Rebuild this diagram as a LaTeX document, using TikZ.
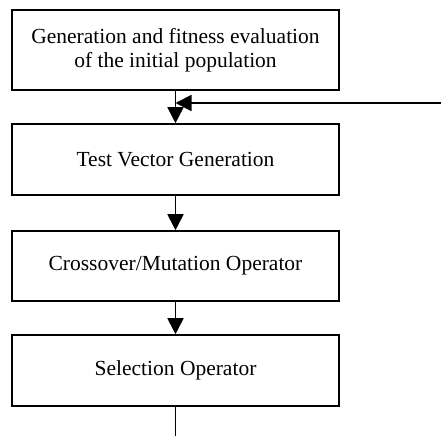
\documentclass[tikz,border=0pt]{standalone}
\usepackage{fontspec}
\setmainfont{Liberation Serif}
\usetikzlibrary{arrows.meta}
\begin{document}
\begin{tikzpicture}[x=1pt,y=-1pt,
  procbox/.style={draw,line width=1.6pt,minimum width=327pt,inner sep=0pt,align=center,
    font=\fontsize{21.5}{24}\selectfont},
  flow/.style={line width=1.8pt,-{Triangle[length=16pt,width=16pt]}},
  plain/.style={line width=1.8pt}]
\useasboundingbox (0,0) rectangle (441,436);
\node[procbox,minimum height=80pt] (b1) at (175.5,50) {Generation and fitness evaluation\\of the initial population};
\node[procbox,minimum height=71pt] (b2) at (175.5,159.5) {Test Vector Generation};
\node[procbox,minimum height=70pt] (b3) at (175.5,266) {Crossover/Mutation Operator};
\node[procbox,minimum height=71pt] (b4) at (175.5,370.5) {Selection Operator};
\coordinate (fb) at (441,103);
\coordinate (join) at (b1.south |- fb);
\coordinate (out) at (b4.south |- 0,436);
\draw[flow] (b1.south) -- (b2.north);
\draw[flow] (fb) -- (join);
\draw[flow] (b2.south) -- (b3.north);
\draw[flow] (b3.south) -- (b4.north);
\draw[plain] (b4.south) -- (out);
\end{tikzpicture}
\end{document}
